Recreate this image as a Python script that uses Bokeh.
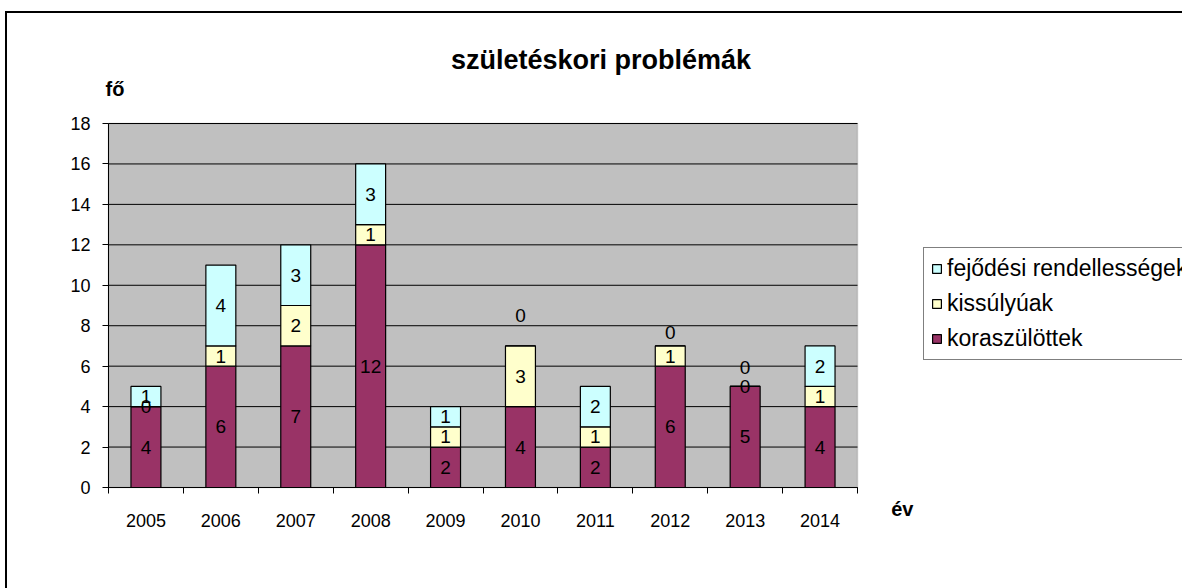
from bokeh.plotting import figure
from bokeh.models import (ColumnDataSource, FixedTicker, Legend, LegendItem, Label,
                          LinearAxis, BoxAnnotation)
from bokeh.embed import file_html
from bokeh.resources import INLINE
from bokeh.core.properties import value

# ---- data ----
years = ["2005", "2006", "2007", "2008", "2009", "2010", "2011", "2012", "2013", "2014"]
koraszulottek = [4, 6, 7, 12, 2, 4, 2, 6, 5, 4]
kissulyuak = [0, 1, 2, 1, 1, 3, 1, 1, 0, 1]
fejlodesi = [1, 4, 3, 3, 1, 0, 2, 0, 0, 2]
series_labels = ["koraszülöttek", "kissúlyúak", "fejődési rendellességek"]
series_colors = ["#993366", "#FFFFCC", "#CCFFFF"]
y_ticks = [0, 2, 4, 6, 8, 10, 12, 14, 16, 18]
y_max = 18

# label nudges (pixels, upward) for zero-height segments, as Excel placed them
label_nudge = {("2010", 2): 30, ("2012", 2): 13, ("2013", 2): 19}

FONT = "Liberation Sans"

# ---- layout geometry (pixels on the canvas) ----
W, H = 1175, 575
PLOT_L, PLOT_R, PLOT_T, PLOT_B = 101, 850, 110, 474
n = len(years)
ux = (PLOT_R - PLOT_L) / n
uy = (PLOT_B - PLOT_T) / y_max
x_range = (-PLOT_L / ux, (W - PLOT_L) / ux)
y_range = (-(H - PLOT_B) / uy, y_max + PLOT_T / uy)

xs = [i + 0.5 for i in range(n)]
src = ColumnDataSource(dict(x=xs, kor=koraszulottek, kis=kissulyuak, fej=fejlodesi))

p = figure(
    frame_width=W, frame_height=H, min_border=0,
    x_range=x_range, y_range=y_range,
    x_axis_location=None, y_axis_location=None,
    output_backend="svg", toolbar_location=None,
    background_fill_color="white", border_fill_color="white",
)
p.styles = {"margin-left": "5px", "margin-top": "11px",
            "border-left": "2px solid black", "border-top": "2px solid black"}
p.outline_line_color = None
p.xgrid.visible = False
p.ygrid.visible = False

# plot area background
p.add_layout(BoxAnnotation(left=0, right=n, bottom=0, top=y_max,
                           fill_color="#C0C0C0", fill_alpha=1,
                           line_color="#808080", line_width=1.5, level="underlay"))

# horizontal gridlines
p.segment(x0=0, x1=n, y0=y_ticks, y1=y_ticks, line_color="black", line_width=1)

renderers = p.vbar_stack(["kor", "kis", "fej"], x="x", width=0.4, source=src,
                         fill_color=series_colors, line_color="black", line_width=1.2)

# data labels
lx, ly, lt, lo = [], [], [], []
series_vals = [koraszulottek, kissulyuak, fejlodesi]
for i, yr in enumerate(years):
    base = 0
    for s, vals in enumerate(series_vals):
        v = vals[i]
        lx.append(xs[i])
        ly.append(base + v / 2)
        lt.append(str(v))
        lo.append(-label_nudge.get((yr, s), 0))
        base += v
lab_src = ColumnDataSource(dict(x=lx, y=ly, t=lt, o=lo))
p.text(x="x", y="y", text="t", y_offset="o", source=lab_src,
       text_align="center", text_baseline="middle",
       text_font=value(FONT), text_font_size="19px", text_color="black")

# axes
xa = LinearAxis(fixed_location=0, bounds=(0, n),
                ticker=FixedTicker(ticks=xs, minor_ticks=list(range(n + 1))))
xa.major_label_overrides = {x: y for x, y in zip(xs, years)}
xa.major_tick_line_color = None
xa.major_tick_out = 0
xa.major_tick_in = 0
xa.minor_tick_line_color = "black"
xa.minor_tick_out = 6
xa.minor_tick_in = 0
xa.axis_line_color = "black"
xa.major_label_standoff = 20
xa.major_label_text_font = FONT
xa.major_label_text_font_size = "18px"
xa.major_label_text_color = "black"
p.add_layout(xa, "below")

ya = LinearAxis(fixed_location=0, bounds=(0, y_max), ticker=FixedTicker(ticks=y_ticks))
ya.major_tick_out = 6
ya.major_tick_in = 0
ya.minor_tick_line_color = None
ya.axis_line_color = "black"
ya.major_tick_line_color = "black"
ya.major_label_standoff = 12
ya.major_label_text_font = FONT
ya.major_label_text_font_size = "18px"
ya.major_label_text_color = "black"
p.add_layout(ya, "left")

# title and axis titles
common = dict(text_baseline="alphabetic", text_font=FONT, text_font_style="bold",
              text_color="black")
p.add_layout(Label(x=6.575, y=21.12, text="születéskori problémák", text_align="center",
                   text_font_size="27px", **common))
p.add_layout(Label(x=-0.04, y=19.73, text="fő", text_align="left",
                   text_font_size="20px", **common))
p.add_layout(Label(x=10.45, y=-1.04, text="év", text_align="left",
                   text_font_size="20px", **common))

# legend
items = [LegendItem(label=series_labels[k], renderers=[renderers[k]]) for k in (2, 1, 0)]
legend = Legend(items=items, location=(916, 228), orientation="vertical",
                border_line_color="black", border_line_width=1,
                background_fill_color="white", background_fill_alpha=1,
                label_text_font=FONT, label_text_font_size="23px", label_text_color="black",
                glyph_width=11, glyph_height=11, label_height=26, label_standoff=5,
                spacing=8, padding=7, margin=0)
p.add_layout(legend, "center")

open("out.html", "w").write(file_html(p, INLINE))
